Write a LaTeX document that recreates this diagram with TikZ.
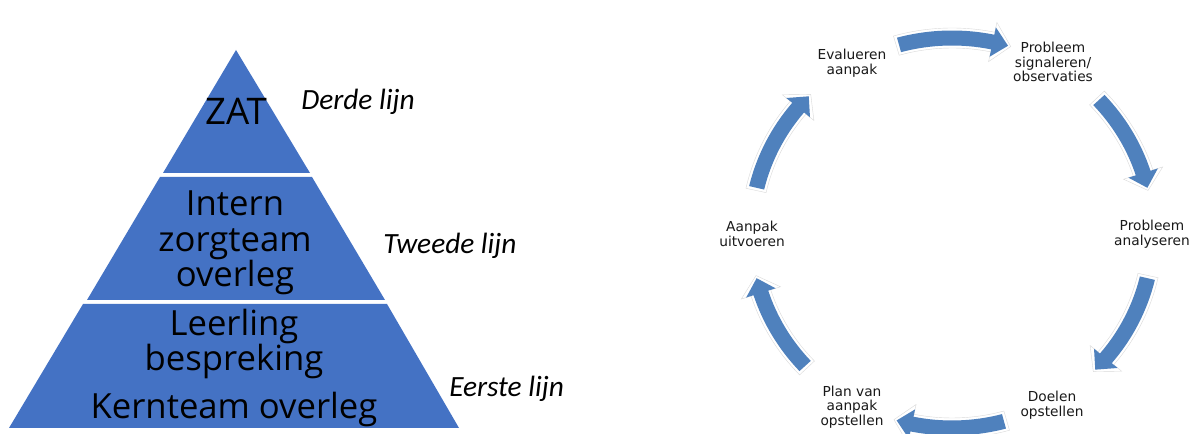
\documentclass[tikz,border=0pt]{standalone}
\usepackage{fontspec}
\setmainfont{Open Sans}
\newfontfamily\cyclefont{DejaVu Sans}
\newfontfamily\sidefont{Carlito}
\definecolor{pyrblue}{HTML}{4472C4}
\definecolor{arrblue}{HTML}{4F81BD}
\definecolor{halo}{HTML}{D9D9D9}
\tikzset{
  layer/.style={fill=pyrblue,draw=none},
  pyrtext/.style={align=center,text=black,inner sep=0pt,font=\fontsize{26pt}{26.6pt}\selectfont},
  sidetext/.style={anchor=west,inner sep=0pt,text=black,font=\sidefont\itshape\fontsize{22pt}{24pt}\selectfont},
  cyctext/.style={align=center,text=black!90,inner sep=0pt,font=\cyclefont\fontsize{10.3pt}{11pt}\selectfont},
  blockhalo/.style={fill=white,draw=halo,line width=0.3pt},
  blockfill/.style={fill=arrblue,draw=none}
}
% #2 start angle, #3 tip angle, #4 shaft half width, #5 head half width, #6 angle overshoot
\newcommand{\blockarc}[6][]{%
  \path[#1] (#2+#6:195+#4) arc[start angle=#2+#6,end angle=#3+4.5,radius=195+#4]
    -- (#3+4.5:195+#5) -- (#3-#6:195) -- (#3+4.5:195-#5)
    -- (#3+4.5:195-#4) arc[start angle=#3+4.5,end angle=#2+#6,radius=195-#4] -- cycle;}
\begin{document}
\begin{tikzpicture}[x=0.75pt,y=0.75pt]
\useasboundingbox (0,0) rectangle (1195,434);
\clip (0,0) rectangle (1195,434);
\fill[white] (0,0) rectangle (1195,434);
% pyramid
\fill[layer] (236,384) -- (310,261) -- (163,261) -- cycle;
\fill[layer] (312,257) -- (385,134) -- (87,134) -- (160,257) -- cycle;
\fill[layer] (387,130) -- (459,6) -- (9,6) -- (83,130) -- cycle;
\node[pyrtext,font=\fontsize{27.5pt}{28pt}\selectfont] (zat) at (236,323) {ZAT};
\node[pyrtext] (intern) at (235,191) {Intern\\zorgteam\\overleg};
\node[pyrtext] (leerling) at (234,90) {Leerling\\bespreking};
\node[pyrtext] (kern) at (234,25) {Kernteam overleg};
\node[sidetext] (derde) at (301,332) {Derde lijn};
\node[sidetext] (tweede) at (383,188) {Tweede lijn};
\node[sidetext] (eerste) at (449,45) {Eerste lijn};
% cycle
\node[cyctext] (prob) at (1053,372) {Probleem\\signaleren/\\observaties};
\node[cyctext] (ana) at (1152,200) {Probleem\\analyseren};
\node[cyctext] (doel) at (1052,29) {Doelen\\opstellen};
\node[cyctext] (plan) at (852,27) {Plan van\\aanpak\\opstellen};
\node[cyctext] (uit) at (752,200) {Aanpak\\uitvoeren};
\node[cyctext] (eval) at (852,371) {Evalueren\\aanpak};
\begin{scope}[shift={(952,201)},xscale=1.03]
\foreach \a/\b in {105.3/73.8,43/13.4,-13.4/-44.5,-75/-106,-137/-166.6,166.6/135.5}{
  \blockarc[blockhalo]{\a}{\b}{10}{20}{0.8}
  \blockarc[blockfill]{\a}{\b}{7.5}{15}{0}
}
\end{scope}
\end{tikzpicture}
\end{document}
